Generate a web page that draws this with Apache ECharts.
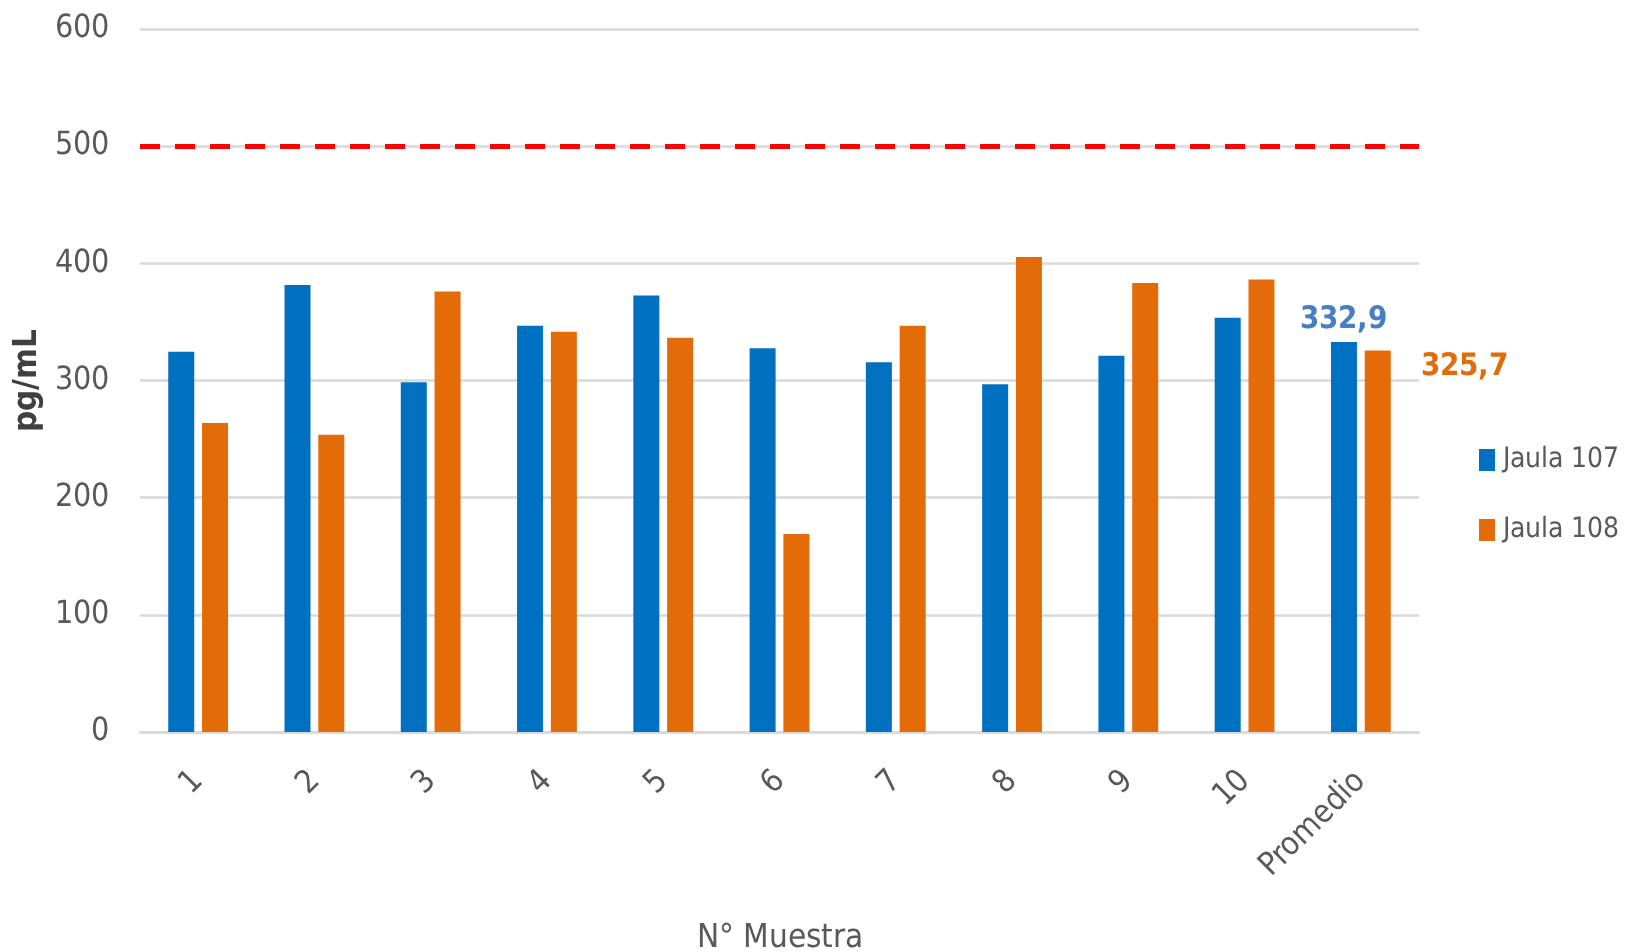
<!DOCTYPE html>
<html><head><meta charset="utf-8">
<script src="https://cdn.jsdelivr.net/npm/echarts@6/dist/echarts.min.js"></script>
<style>
@font-face{font-family:'NarrowX';font-weight:400;src:local('Liberation Sans Narrow'),local('LiberationSansNarrow-Regular'),local('DejaVu Sans Condensed'),local('DejaVuSansCondensed');}
@font-face{font-family:'NarrowX';font-weight:700;src:local('Liberation Sans Narrow Bold'),local('LiberationSansNarrow-Bold'),local('DejaVu Sans Condensed Bold'),local('DejaVuSansCondensed-Bold');}
html,body{margin:0;padding:0;background:#fff}#c{width:1627px;height:952px}
</style>
</head><body><div id="c"></div>
<script>
const categories = ['1','2','3','4','5','6','7','8','9','10','Promedio'];
const jaula107 = [324.5, 381.5, 298.6, 346.7, 372.6, 327.6, 315.6, 296.8, 321.1, 353.6, 332.9];
const jaula108 = [263.8, 253.6, 376.0, 341.6, 336.5, 168.9, 346.7, 405.4, 383.2, 386.3, 325.7];
const limitValue = 500;
const yTicks = [0, 100, 200, 300, 400, 500, 600];

const FONT = 'NarrowX, "DejaVu Sans", sans-serif';
const GREY = '#595959';
const last = categories.length - 1;

function draw() {
  const d107 = jaula107.map((v, i) => i === last ? {
    value: v,
    label: {show: true, position: 'top', distance: 6, formatter: p => String(p.value).replace('.', ','),
            color: '#4A7EC2', fontWeight: 'bold', fontSize: 31, fontFamily: FONT}
  } : v);
  const d108 = jaula108.map((v, i) => i === last ? {
    value: v,
    label: {show: true, position: [56, 17], align: 'left', verticalAlign: 'middle',
            formatter: p => String(p.value).replace('.', ','),
            color: '#E36C09', fontWeight: 'bold', fontSize: 31, fontFamily: FONT}
  } : v);

  const chart = echarts.init(document.getElementById('c'));
  chart.setOption({
    animation: false,
    textStyle: {fontFamily: FONT},
    grid: {left: 140, right: 208, top: 29, bottom: 220, containLabel: false, outerBoundsMode: 'none'},
    legend: {
      orient: 'vertical', left: 1474, top: 441,
      itemWidth: 16, itemHeight: 22, itemGap: 42,
      icon: 'rect',
      textStyle: {color: GREY, fontSize: 28, fontFamily: FONT, padding: [0, 0, 0, 3]},
      data: ['Jaula 107', 'Jaula 108']
    },
    xAxis: {
      type: 'category', data: categories,
      name: 'N° Muestra', nameLocation: 'middle', nameGap: 190,
      nameTextStyle: {color: GREY, fontSize: 33, fontFamily: FONT},
      axisLine: {show: true, lineStyle: {color: '#D9D9D9', width: 2.5}},
      axisTick: {show: false},
      axisLabel: {rotate: 45, margin: 44, color: GREY, fontSize: 32, fontFamily: FONT}
    },
    yAxis: {
      type: 'value', min: 0, max: 600, interval: 100,
      name: 'pg/mL', nameLocation: 'middle', nameGap: 81, nameRotate: 90,
      nameTextStyle: {color: '#404040', fontSize: 33, fontWeight: 'bold', fontFamily: FONT},
      axisLine: {show: false}, axisTick: {show: false},
      axisLabel: {margin: 31, color: GREY, fontSize: 32, fontFamily: FONT,
                  formatter: v => yTicks.includes(v) ? String(v) : ''},
      splitLine: {lineStyle: {color: '#D9D9D9', width: 2.5}}
    },
    series: [
      {
        name: 'Jaula 107', type: 'bar', data: d107,
        barWidth: 26, barGap: '30%',
        itemStyle: {color: '#0070C0'},
        markLine: {
          silent: true, symbol: 'none', label: {show: false},
          lineStyle: {color: '#FF0000', width: 5, type: [20, 15]},
          data: [{yAxis: limitValue}]
        },
        z: 2
      },
      {
        name: 'Jaula 108', type: 'bar', data: d108,
        barWidth: 26,
        itemStyle: {color: '#E36C09'}
      }
    ]
  });
}

Promise.all([
  document.fonts.load('400 32px NarrowX'),
  document.fonts.load('700 32px NarrowX')
]).then(draw, draw);
</script></body></html>
